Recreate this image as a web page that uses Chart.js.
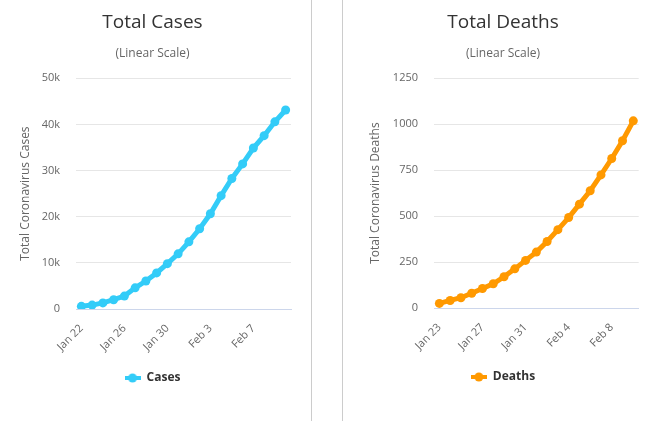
<!DOCTYPE html>
<html>
<head>
<meta charset="utf-8">
<script src="https://cdn.jsdelivr.net/npm/chart.js@4.4.1/dist/chart.umd.min.js"></script>
<style>
  body { margin: 0; background: #fff; }
  .panel { position: absolute; top: 0; height: 421px; }
  #left { left: 0; width: 311px; border-right: 1px solid #ccc; }
  #right { left: 342px; width: 313px; border-left: 1px solid #ccc; }
</style>
</head>
<body>
<div class="panel" id="left"><canvas id="casesChart"></canvas></div>
<div class="panel" id="right"><canvas id="deathsChart"></canvas></div>
<script>
// data
const caseDates = ["Jan 22", "Jan 23", "Jan 24", "Jan 25", "Jan 26", "Jan 27", "Jan 28", "Jan 29", "Jan 30", "Jan 31",
  "Feb 1", "Feb 2", "Feb 3", "Feb 4", "Feb 5", "Feb 6", "Feb 7", "Feb 8", "Feb 9", "Feb 10"]
const caseValues = [580, 845, 1317, 2015, 2800, 4581, 6058, 7813, 9821, 11948,
  14551, 17389, 20628, 24553, 28276, 31439, 34876, 37552, 40553, 43099]
const caseShownDates = ["Jan 22", "Jan 26", "Jan 30", "Feb 3", "Feb 7"]
const caseYTicks = ["0", "10k", "20k", "30k", "40k", "50k"]

const deathDates = ["Jan 23", "Jan 24", "Jan 25", "Jan 26", "Jan 27", "Jan 28", "Jan 29", "Jan 30", "Jan 31",
  "Feb 1", "Feb 2", "Feb 3", "Feb 4", "Feb 5", "Feb 6", "Feb 7", "Feb 8", "Feb 9", "Feb 10"]
const deathValues = [25, 41, 56, 80, 106, 132, 170, 213, 259, 304, 362, 426, 492, 565, 638, 724, 813, 910, 1018]
const deathShownDates = ["Jan 23", "Jan 27", "Jan 31", "Feb 4", "Feb 8"]
const deathYTicks = ["0", "250", "500", "750", "1000", "1250"]

Chart.defaults.font.family = "'Open Sans', sans-serif"

// little line + dot symbol for the legend
function legendSymbol(color) {
  const c = document.createElement("canvas")
  c.width = 16
  c.height = 10
  const g = c.getContext("2d")
  g.strokeStyle = color
  g.lineWidth = 4
  g.beginPath()
  g.moveTo(0, 5)
  g.lineTo(16, 5)
  g.stroke()
  g.fillStyle = color
  g.beginPath()
  g.arc(8, 5, 4.5, 0, Math.PI * 2)
  g.fill()
  return c
}

function makeChart(id, cfg) {
  new Chart(document.getElementById(id), {
    type: "line",
    data: {
      labels: cfg.labels,
      datasets: [{
        label: cfg.name,
        data: cfg.values,
        borderColor: cfg.color,
        backgroundColor: cfg.color,
        borderWidth: 5,
        pointRadius: 4.5,
        pointBorderWidth: 0,
        pointBackgroundColor: cfg.color,
        tension: 0,
      }],
    },
    options: {
      responsive: true,
      maintainAspectRatio: false,
      animation: false,
      layout: { padding: cfg.padding },
      plugins: {
        title: {
          display: true,
          text: cfg.title,
          color: "#333333",
          font: { size: 19, weight: "normal" },
          padding: { top: 11, bottom: 6 },
        },
        subtitle: {
          display: true,
          text: "(Linear Scale)",
          color: "#666666",
          font: { size: 12 },
          padding: { top: 7, bottom: 17 },
        },
        legend: {
          position: "bottom",
          labels: {
            usePointStyle: true,
            pointStyle: legendSymbol(cfg.color),
            pointStyleWidth: 16,
            color: "#333333",
            font: { size: 12, weight: "bold" },
            padding: 10,
          },
        },
        tooltip: { enabled: false },
      },
      scales: {
        x: {
          offset: true,
          grid: { display: false, drawTicks: false },
          border: { display: true, color: "#ccd6eb", width: 1 },
          ticks: {
            autoSkip: false,
            minRotation: 45,
            maxRotation: 45,
            color: "#666666",
            font: { size: 11 },
            padding: 13,
            callback: function (v, i) {
              const lab = cfg.labels[i]
              return cfg.shown.includes(lab) ? lab : ""
            },
          },
          afterFit: (s) => { s.height = 53 },
        },
        y: {
          min: 0,
          max: cfg.yMax,
          grid: { color: "#e6e6e6", drawTicks: false },
          border: { display: false },
          ticks: {
            stepSize: cfg.yMax / 5,
            color: "#666666",
            font: { size: 11 },
            padding: 16,
            callback: (v, i) => cfg.yTicks[i],
          },
          title: {
            display: true,
            text: cfg.axisTitle,
            color: "#666666",
            font: { size: 12 },
          },
          afterFit: (s) => { s.width = cfg.yWidth },
        },
      },
    },
  })
}

makeChart("casesChart", {
  labels: caseDates, values: caseValues, shown: caseShownDates, yTicks: caseYTicks,
  yMax: 50000, color: "#33ccf8", name: "Cases", title: "Total Cases",
  axisTitle: "Total Coronavirus Cases",
  padding: { left: 14, right: 20, top: 0, bottom: 27 }, yWidth: 62,
})

makeChart("deathsChart", {
  labels: deathDates, values: deathValues, shown: deathShownDates, yTicks: deathYTicks,
  yMax: 1250, color: "#ff9900", name: "Deaths", title: "Total Deaths",
  axisTitle: "Total Coronavirus Deaths",
  padding: { left: 21, right: 14, top: 0, bottom: 28 }, yWidth: 70,
})
</script>
</body>
</html>
